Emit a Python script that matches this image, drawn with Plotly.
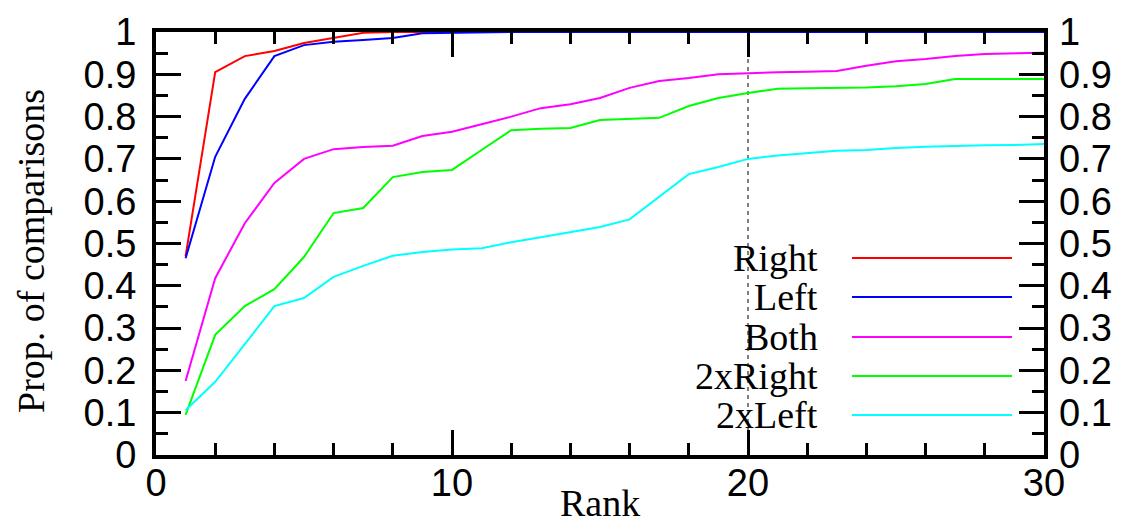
import plotly.graph_objects as go

# ---- data ----
ranks = list(range(1, 31))
right = [0.470, 0.905, 0.943, 0.955, 0.974, 0.986, 0.998, 1.0, 1.0, 1.0,
         1.0, 1.0, 1.0, 1.0, 1.0, 1.0, 1.0, 1.0, 1.0, 1.0,
         1.0, 1.0, 1.0, 1.0, 1.0, 1.0, 1.0, 1.0, 1.0, 1.0]
left = [0.465, 0.705, 0.842, 0.943, 0.969, 0.977, 0.981, 0.986, 0.997, 0.998,
        1.0, 1.0, 1.0, 1.0, 1.0, 1.0, 1.0, 1.0, 1.0, 1.0,
        1.0, 1.0, 1.0, 1.0, 1.0, 1.0, 1.0, 1.0, 1.0, 1.0]
both = [0.175, 0.418, 0.548, 0.643, 0.700, 0.723, 0.728, 0.731, 0.754, 0.764,
        0.782, 0.800, 0.820, 0.829, 0.844, 0.868, 0.884, 0.891, 0.900, 0.903,
        0.905, 0.906, 0.908, 0.920, 0.931, 0.936, 0.943, 0.948, 0.950, 0.951]
two_right = [0.095, 0.284, 0.352, 0.392, 0.468, 0.572, 0.584, 0.657, 0.669, 0.674,
             0.721, 0.768, 0.771, 0.773, 0.792, 0.794, 0.797, 0.825, 0.844, 0.856,
             0.866, 0.867, 0.868, 0.869, 0.872, 0.877, 0.889, 0.889, 0.889, 0.889]
two_left = [0.106, 0.173, 0.262, 0.352, 0.371, 0.421, 0.447, 0.471, 0.480, 0.486,
            0.489, 0.503, 0.515, 0.527, 0.539, 0.557, 0.610, 0.664, 0.681, 0.700,
            0.708, 0.714, 0.719, 0.721, 0.726, 0.729, 0.731, 0.732, 0.733, 0.735]
series_names = ["Right", "Left", "Both", "2xRight", "2xLeft"]
series_colors = ["#ff0000", "#0000ff", "#ff00ff", "#00ff00", "#00ffff"]
cutoff_rank = 20
x_title = "Rank"
y_title = "Prop. of comparisons"

SANS = "Liberation Sans, Arial, sans-serif"
SERIF = "Liberation Serif, Times New Roman, serif"

W, H = 1123, 527
ML, MR, MT, MB = 156, 79, 32, 72
PW, PH = W - ML - MR, H - MT - MB

def px_x(px):
    return (px - ML) / PW

def px_y(py):
    return (H - MB - py) / PH

fig = go.Figure()
all_series = [right, left, both, two_right, two_left]
for name, vals, col in zip(series_names, all_series, series_colors):
    fig.add_trace(go.Scatter(x=ranks, y=vals, mode="lines", name=name,
                             line=dict(color=col, width=2), showlegend=False,
                             hoverinfo="skip"))

# invisible trace so the right-hand axis is drawn
fig.add_trace(go.Scatter(x=ranks, y=both, mode="lines", yaxis="y2",
                         line=dict(color="rgba(0,0,0,0)", width=0),
                         showlegend=False, hoverinfo="skip"))

# dashed reference line at rank 20
fig.add_shape(type="line", xref="x", yref="y", x0=cutoff_rank, x1=cutoff_rank,
              y0=0, y1=1, line=dict(color="black", width=1, dash="4px,4px"),
              layer="below")

# manual legend (text left of sample line)
legend_rows = [258, 297, 337, 376, 415]
for name, col, py in zip(series_names, series_colors, legend_rows):
    fig.add_annotation(xref="paper", yref="paper", x=px_x(820), y=px_y(py),
                       xanchor="right", yanchor="middle", text=name,
                       showarrow=False, font=dict(family=SERIF, size=38, color="black"))
    fig.add_shape(type="line", xref="paper", yref="paper",
                  x0=px_x(852), x1=px_x(1012), y0=px_y(py), y1=px_y(py),
                  line=dict(color=col, width=2))

# axis titles
fig.add_annotation(xref="paper", yref="paper", x=0.5, y=px_y(480),
                   xanchor="center", yanchor="top", text=x_title, showarrow=False,
                   font=dict(family=SERIF, size=38, color="black"))
fig.add_annotation(xref="paper", yref="paper", x=px_x(31), y=px_y(251),
                   xanchor="center", yanchor="middle", text=y_title, textangle=-90,
                   showarrow=False, font=dict(family=SERIF, size=38, color="black"))

tickfont = dict(family=SANS, size=38, color="black")
fig.update_layout(
    width=W, height=H,
    margin=dict(l=ML, r=MR, t=MT, b=MB, pad=0),
    paper_bgcolor="white", plot_bgcolor="white",
    xaxis=dict(range=[0, 30], dtick=10, tick0=0, ticks="inside", ticklen=25,
               tickwidth=3, tickcolor="black", showline=True, linewidth=4,
               linecolor="black", mirror="ticks", showgrid=False, zeroline=False,
               tickfont=tickfont, ticklabelstandoff=-9,
               minor=dict(dtick=2, tick0=0, ticks="inside", ticklen=12,
                          tickwidth=3, tickcolor="black", showgrid=False)),
    yaxis=dict(range=[0, 1], dtick=0.1, tick0=0, ticks="inside", ticklen=25,
               tickwidth=3, tickcolor="black", showline=True, linewidth=4,
               linecolor="black", mirror="ticks", showgrid=False, zeroline=False,
               tickfont=tickfont, ticklabelstandoff=8,
               minor=dict(dtick=0.05, tick0=0, ticks="inside", ticklen=12,
                          tickwidth=3, tickcolor="black", showgrid=False)),
    yaxis2=dict(range=[0, 1], dtick=0.1, tick0=0, overlaying="y", side="right",
                ticks="", showline=False, showgrid=False, zeroline=False,
                tickfont=tickfont, ticklabelstandoff=14),
)

fig.write_html("out.html")
